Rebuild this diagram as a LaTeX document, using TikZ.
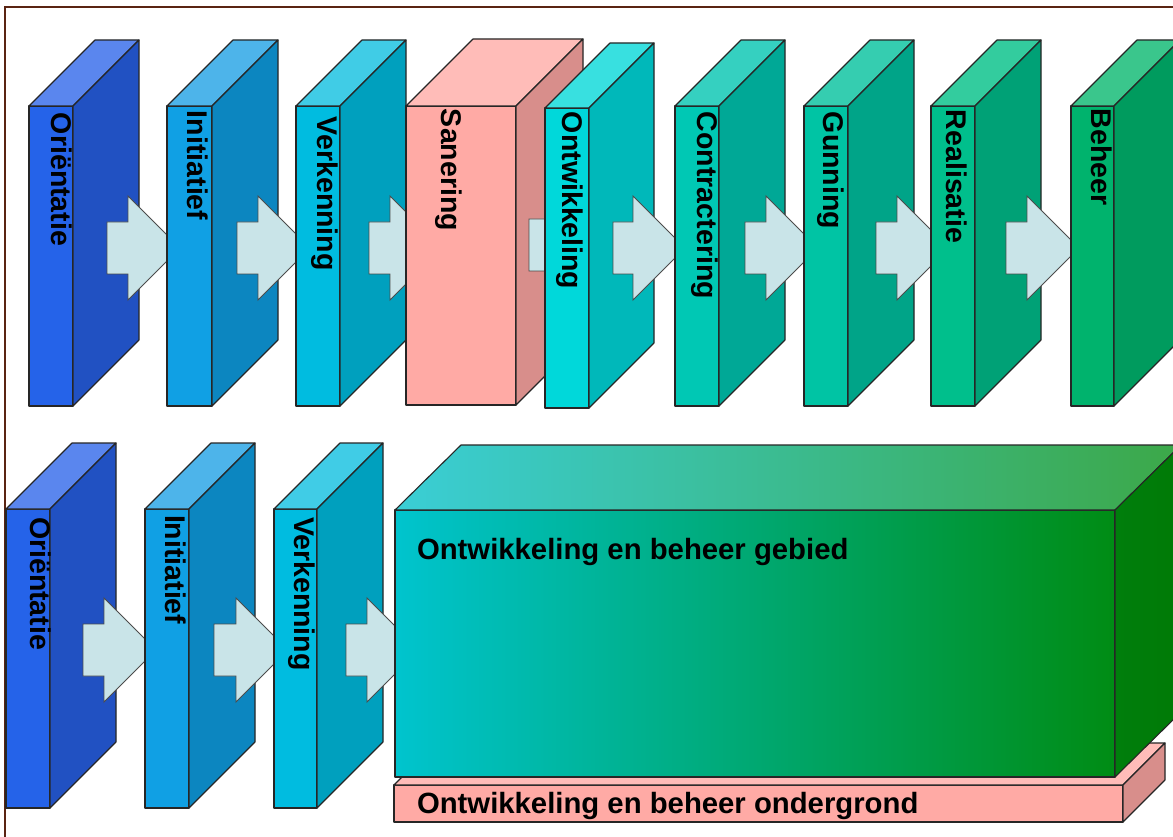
\documentclass[tikz,border=0pt]{standalone}
\usepackage{fontspec}
\setmainfont{Liberation Sans}

% phase colours: front / top / side
\definecolor{orf}{HTML}{2563E9}\definecolor{ort}{HTML}{5A86EE}\definecolor{ors}{HTML}{2151C2}
\definecolor{inf}{HTML}{10A0E4}\definecolor{int}{HTML}{4DB4EA}\definecolor{ins}{HTML}{0C86C0}
\definecolor{vef}{HTML}{00BCE0}\definecolor{vet}{HTML}{40CCE6}\definecolor{ves}{HTML}{00A0BE}
\definecolor{saf}{HTML}{FFAAA5}\definecolor{sat}{HTML}{FFBCB8}\definecolor{sas}{HTML}{D88E8B}
\definecolor{onf}{HTML}{00D8DA}\definecolor{ont}{HTML}{38E0E0}\definecolor{ons}{HTML}{00B8BA}
\definecolor{cof}{HTML}{00C8B4}\definecolor{cot}{HTML}{35D0C0}\definecolor{cos}{HTML}{00A896}
\definecolor{guf}{HTML}{00C4A4}\definecolor{gut}{HTML}{35CDB0}\definecolor{gus}{HTML}{00A488}
\definecolor{ref}{HTML}{00BF8C}\definecolor{ret}{HTML}{33CC9E}\definecolor{res}{HTML}{00A176}
\definecolor{bef}{HTML}{00B36D}\definecolor{bet}{HTML}{3AC68C}\definecolor{bes}{HTML}{009B5E}
% area block gradient ends
\definecolor{gfl}{HTML}{00C4CE}\definecolor{gfr}{HTML}{008C14}
\definecolor{gtl}{HTML}{3ACED6}\definecolor{gtr}{HTML}{3CA848}
\definecolor{gsl}{HTML}{007E0C}\definecolor{gsr}{HTML}{007A06}
\definecolor{arrowfill}{HTML}{C9E4E8}
\definecolor{framebrown}{HTML}{5A2412}

\tikzset{
  edge/.style={draw=black!85, line width=1.1pt, line join=round},
  face/.style={edge, inner sep=0pt, outer sep=0pt, anchor=north west},
  flow/.style={draw=black!70, line width=0.9pt, fill=arrowfill, line join=miter},
  lbl/.style={inner sep=0pt, outer sep=0pt, text=black,
              font=\bfseries\fontsize{29.3}{31}\selectfont},
  vlbl/.style={inner sep=0pt, outer sep=0pt, text=black,
              font=\bfseries\fontsize{28.5}{30}\selectfont, rotate=-90, anchor=north west},
}

% #1 name, #2 x, #3 y, #4 width, #5 height, #6 depth, #7 front, #8 top, #9 side
\newcommand\slab[9]{%
  \node[face, fill=#7, minimum width=#4pt, minimum height=#5pt] (#1) at (#2,#3) {};
  \draw[edge, fill=#8] (#1.north west) -- ++(#6,-#6) -- ++(#4,0) -- (#1.north east) -- cycle;
  \draw[edge, fill=#9] (#1.north east) -- ++(#6,-#6) -- ++(0,#5) -- (#1.south east) -- cycle;
}

% block arrow: #1 shaft start, #2 head base, #3 centre line
\newcommand\flowarrow[3]{%
  \draw[flow] (#1,#3-26) -- (#2,#3-26) -- (#2,#3-52) -- (#2+52,#3)
    -- (#2,#3+52) -- (#2,#3+26) -- (#1,#3+26) -- cycle;
}

\begin{document}
\begin{tikzpicture}[x=1pt, y=-1pt]
  \useasboundingbox (0,0) rectangle (1173,837);
  \fill[white] (0,0) rectangle (1173,837);
  \clip (0,0) rectangle (1173,837);

  % frame
  \draw[framebrown, line width=2pt] (5,837) -- (5,7) -- (1180,7);

  % ---- upper row: full chain of phases ----
  \slab{o1}{29}{106}{44}{300}{66}{orf}{ort}{ors}
  \node[vlbl] (to1) at (72,113) {Oriëntatie};
  \flowarrow{107}{128}{248}
  \slab{i1}{167}{106}{45}{300}{66}{inf}{int}{ins}
  \node[vlbl] (ti1) at (208,111) {Initiatief};
  \flowarrow{237}{258}{248}
  \slab{v1}{296}{106}{44}{300}{66}{vef}{vet}{ves}
  \node[vlbl] (tv1) at (338,117) {Verkenning};
  \flowarrow{369}{390}{248}
  \slab{san}{406}{106}{110}{299}{67}{saf}{sat}{sas}
  \node[vlbl] (tsan) at (462,109) {Sanering};
  \flowarrow{529}{550}{245}
  \slab{ont}{545}{108}{44}{300}{65}{onf}{ont}{ons}
  \node[vlbl] (tont) at (583,112) {Ontwikkeling};
  \flowarrow{613}{633}{248}
  \slab{con}{675}{106}{44}{300}{66}{cof}{cot}{cos}
  \node[vlbl] (tcon) at (718,112) {Contractering};
  \flowarrow{745}{766}{248}
  \slab{gun}{804}{106}{44}{300}{66}{guf}{gut}{gus}
  \node[vlbl] (tgun) at (844,112) {Gunning};
  \flowarrow{876}{897}{248}
  \slab{rea}{931}{106}{44}{300}{66}{ref}{ret}{res}
  \node[vlbl] (trea) at (967,110) {Realisatie};
  \flowarrow{1006}{1027}{248}
  \slab{beh}{1071}{106}{43}{300}{66}{bef}{bet}{bes}
  \node[vlbl] (tbeh) at (1112,109) {Beheer};

  % ---- lower row: first phases, then area development ----
  \slab{o2}{6}{509}{44}{299}{66}{orf}{ort}{ors}
  \node[vlbl] (to2) at (51,517) {Oriëntatie};
  \flowarrow{83}{104}{650}
  \slab{i2}{145}{509}{44}{299}{66}{inf}{int}{ins}
  \node[vlbl] (ti2) at (186,515) {Initiatief};
  \flowarrow{214}{236}{650}
  \slab{v2}{274}{509}{43}{299}{66}{vef}{vet}{ves}
  \node[vlbl] (tv2) at (315,517) {Verkenning};
  \flowarrow{346}{367}{650}

  % subsurface strip
  \slab{grond}{394}{785}{729}{37}{42}{saf}{sat}{sas}
  \node[lbl, anchor=base west] (tgrond) at (417,813) {Ontwikkeling en beheer ondergrond};

  % area block
  \node[face, left color=gfl, right color=gfr, minimum width=720pt, minimum height=267pt]
    (gebied) at (395,510) {};
  \draw[edge, left color=gtl, right color=gtr]
    (gebied.north west) -- ++(66,-65) -- ++(720,0) -- (gebied.north east) -- cycle;
  \draw[edge, left color=gsl, right color=gsr]
    (gebied.north east) -- ++(66,-65) -- ++(0,267) -- (gebied.south east) -- cycle;
  \node[lbl, anchor=base west] (tgebied) at (417,559) {Ontwikkeling en beheer gebied};
\end{tikzpicture}
\end{document}
